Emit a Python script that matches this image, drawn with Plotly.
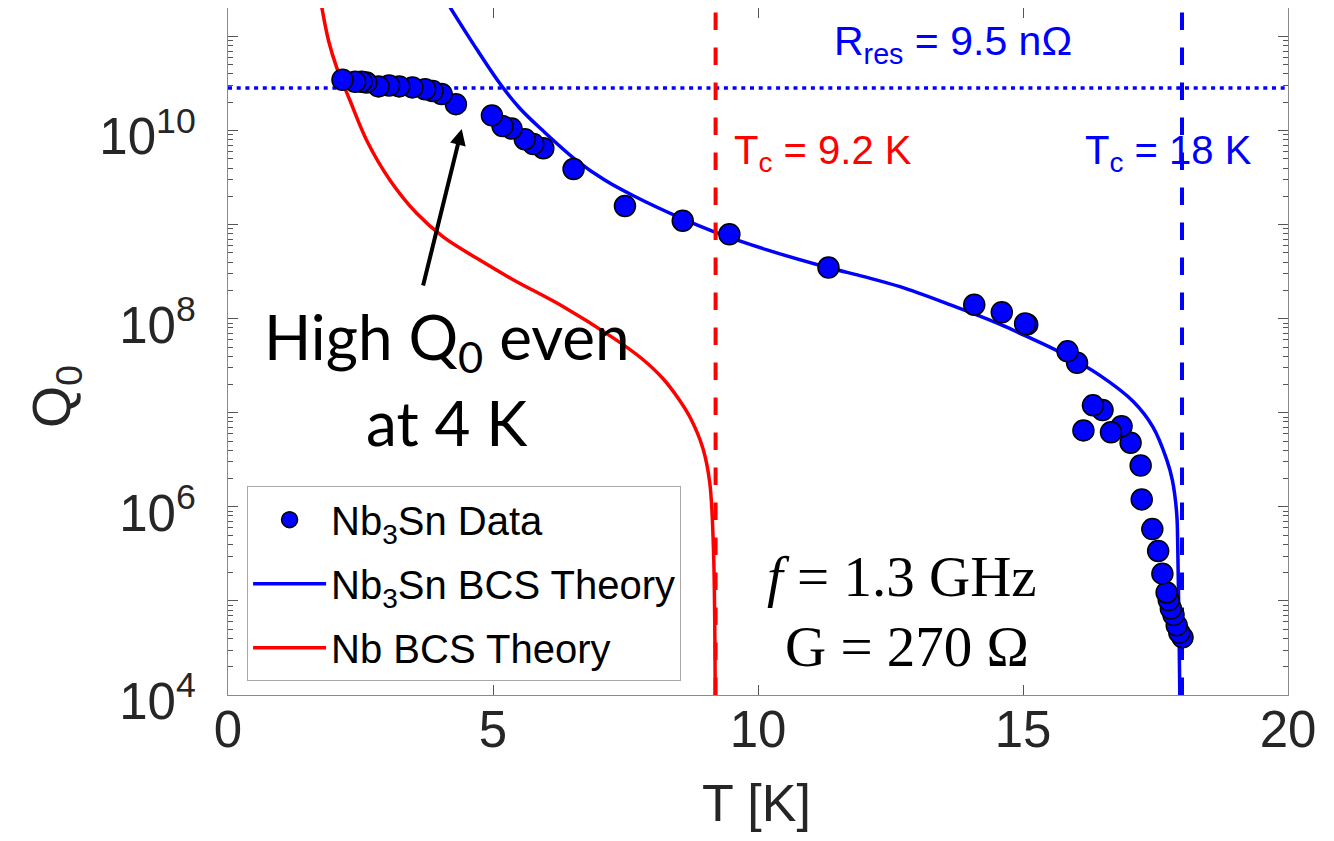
import plotly.graph_objects as go
import numpy as np

# ---------------- data ----------------
# Nb3Sn measured Q0 vs T (listed high T -> low T, as drawn)
T_data = [18.01, 17.95, 17.90, 17.84, 17.79, 17.75, 17.71, 17.63, 17.55, 17.44,
          17.24, 17.22, 17.03, 16.86, 16.66, 16.50, 16.32, 16.14, 16.02, 15.84,
          15.08, 15.04, 14.60, 14.08, 11.33, 9.46, 8.58, 7.49, 6.52, 5.95,
          5.76, 5.60, 5.35, 5.18, 4.98, 4.30, 4.03, 3.86, 3.72, 3.48,
          3.23, 3.04, 2.84, 2.61, 2.52, 2.40, 2.16]
Q_data = [4.1e4, 4.6e4, 5.5e4, 7.1e4, 8.3e4, 1.02e5, 1.23e5, 1.95e5, 3.4e5, 5.8e5,
          1.20e6, 2.75e6, 4.8e6, 7.2e6, 6.2e6, 1.07e7, 1.20e7, 6.5e6, 3.4e7, 4.5e7,
          8.7e7, 8.9e7, 1.17e8, 1.41e8, 3.5e8, 7.9e8, 1.10e9, 1.58e9, 3.9e9, 6.5e9,
          7.2e9, 8.1e9, 1.05e10, 1.12e10, 1.45e10, 1.91e10, 2.45e10, 2.63e10, 2.75e10, 2.88e10,
          2.95e10, 3.02e10, 2.95e10, 3.24e10, 3.31e10, 3.31e10, 3.47e10]

# Nb3Sn BCS theory curve
T_nb3sn_bcs = [4.19, 4.63, 5.13, 5.50, 5.94, 6.58, 7.10, 7.64, 8.58, 9.15,
               10.17, 11.32, 12.00, 12.68, 13.62, 14.57, 15.04, 15.70, 16.45, 17.08,
               17.45, 17.71, 17.82, 17.90, 17.92, 17.94, 17.96]
Q_nb3sn_bcs = [2.04e11, 8.3e10, 3.16e10, 1.74e10, 1.0e10, 4.8e9, 3.0e9, 2.04e9, 1.15e9, 8.5e8,
               5.4e8, 3.5e8, 2.8e8, 2.19e8, 1.41e8, 8.7e7, 6.6e7, 4.4e7, 2.5e7, 1.32e7,
               7.1e6, 3.2e6, 1.9e6, 8.5e5, 3.7e5, 7.4e4, 9.0e3]

# Nb BCS theory curve
T_nb_bcs = [1.77, 1.90, 2.05, 2.30, 2.62, 3.06, 3.56, 4.06, 4.75, 5.38,
            6.32, 7.26, 7.80, 8.21, 8.50, 8.72, 8.96, 9.09, 9.16, 9.19, 9.19]
Q_nb_bcs = [2.04e11, 8.9e10, 4.7e10, 2.1e10, 7.8e9, 2.95e9, 1.32e9, 7.4e8, 4.2e8, 2.6e8,
            1.35e8, 6.3e7, 3.8e7, 2.3e7, 1.41e7, 8.9e6, 4.2e6, 1.8e6, 3.5e5, 2.0e4, 9.0e3]

Tc_Nb = 9.2
Tc_Nb3Sn = 18.0
G_ohm = 270.0
R_res = 9.5e-9
Q_res = G_ohm / R_res

x_range = [0, 20]
Q_axis_min, Q_axis_max = 1e4, 2.01e11
x_ticks = [0, 5, 10, 15, 20]
y_major = [1e4, 1e5, 1e6, 1e7, 1e8, 1e9, 1e10, 1e11]
y_major_text = ['10<sup>4</sup>', '', '10<sup>6</sup>', '', '10<sup>8</sup>', '', '10<sup>10</sup>', '']
y_minor = [m * d for d in [1e4, 1e5, 1e6, 1e7, 1e8, 1e9, 1e10, 1e11] for m in range(2, 10)]

BLUE = '#0000FF'
RED = '#FF0000'
TXT = '#262626'
FONT = 'Liberation Sans, Arial, sans-serif'

fig = go.Figure()

# theory curves
fig.add_trace(go.Scatter(x=T_nb3sn_bcs, y=Q_nb3sn_bcs, mode='lines', name='Nb<sub>3</sub>Sn BCS Theory',
                         line=dict(color=BLUE, width=3.5, shape='spline', smoothing=1.0),
                         legendrank=2, legendgroup='b'))
fig.add_trace(go.Scatter(x=T_nb_bcs, y=Q_nb_bcs, mode='lines', name='Nb BCS Theory',
                         line=dict(color=RED, width=3.5, shape='spline', smoothing=1.0),
                         legendrank=3, legendgroup='c'))

# reference lines
fig.add_trace(go.Scatter(x=x_range, y=[Q_res, Q_res], mode='lines', showlegend=False,
                         line=dict(color=BLUE, width=3.5, dash='4px,4.7px')))
fig.add_trace(go.Scatter(x=[Tc_Nb, Tc_Nb], y=[Q_axis_min, Q_axis_max], mode='lines', showlegend=False,
                         line=dict(color=RED, width=4, dash='17.5px,17.5px')))
fig.add_trace(go.Scatter(x=[Tc_Nb3Sn, Tc_Nb3Sn], y=[Q_axis_min, Q_axis_max], mode='lines', showlegend=False,
                         line=dict(color=BLUE, width=4, dash='17.5px,17.5px')))

# data
fig.add_trace(go.Scatter(x=T_data, y=Q_data, mode='markers', name='Nb<sub>3</sub>Sn Data',
                         marker=dict(color=BLUE, size=21, line=dict(color='black', width=1.5)),
                         legendrank=1, legendgroup='a'))

ann = []
ann.append(dict(text='T<sub>c</sub> = 9.2 K', x=Tc_Nb, xref='x', xshift=16, xanchor='left',
                y=0.789, yref='paper', yanchor='middle', showarrow=False,
                font=dict(family=FONT, size=40, color=RED)))
ann.append(dict(text='T<sub>c</sub> = 18 K', x=Tc_Nb3Sn, xref='x', xshift=-99, xanchor='left',
                y=0.789, yref='paper', yanchor='middle', showarrow=False,
                font=dict(family=FONT, size=40, color=BLUE)))
ann.append(dict(text='R<sub>res</sub> = 9.5 nΩ', x=0.6844, xref='paper', xanchor='center',
                y=0.9476, yref='paper', yanchor='middle', showarrow=False,
                font=dict(family=FONT, size=41, color=BLUE)))
ann.append(dict(text='High Q<sub>0</sub> even', x=0.207, xref='paper', xanchor='center',
                y=0.5153, yref='paper', yanchor='middle', showarrow=False,
                font=dict(family='Lato, sans-serif', size=62, color='black')))
ann.append(dict(text='at 4 K', x=0.207, xref='paper', xanchor='center',
                y=0.397, yref='paper', yanchor='middle', showarrow=False,
                font=dict(family='Lato, sans-serif', size=62, color='black')))
ann.append(dict(text='<i>f</i> = 1.3 GHz', x=0.636, xref='paper', xanchor='center',
                y=0.173, yref='paper', yanchor='middle', showarrow=False,
                font=dict(family='Liberation Serif, Times New Roman, serif', size=57, color='black')))
ann.append(dict(text='G = 270 Ω', x=0.6406, xref='paper', xanchor='center',
                y=0.0713, yref='paper', yanchor='middle', showarrow=False,
                font=dict(family='Liberation Serif, Times New Roman, serif', size=57, color='black')))
# arrow
ann.append(dict(text='', x=4.41, xref='x', y=np.log10(1.04e10), yref='y',
                ax=-39, ay=158, axref='pixel', ayref='pixel', showarrow=True,
                arrowhead=2, arrowsize=0.8, arrowwidth=4, arrowcolor='black'))
# axis titles
ann.append(dict(text='T [K]', x=0.499, xref='paper', xanchor='center',
                y=-0.157, yref='paper', yanchor='middle', showarrow=False,
                font=dict(family=FONT, size=52, color=TXT)))
ann.append(dict(text='Q<sub>0</sub>', x=-0.163, xref='paper', xanchor='center',
                y=0.434, yref='paper', yanchor='middle', showarrow=False, textangle=-90,
                font=dict(family=FONT, size=54, color=TXT)))

fig.update_layout(
    width=1334, height=841,
    margin=dict(l=220, r=54, t=0, b=154),
    paper_bgcolor='white', plot_bgcolor='white',
    font=dict(family=FONT, color=TXT),
    annotations=ann,
    legend=dict(x=0.018, y=0.304, xanchor='left', yanchor='top',
                bgcolor='white', bordercolor='#a8a8a8', borderwidth=1,
                font=dict(family=FONT, size=40, color='black'),
                itemwidth=73, tracegroupgap=9, traceorder='grouped'),
    xaxis=dict(range=x_range, tickvals=x_ticks, ticks='inside', ticklen=10, tickwidth=1,
               tickcolor='#555555', showline=True, linecolor='#8a8a8a', linewidth=1,
               mirror='allticks', showgrid=False, zeroline=False,
               tickfont=dict(family=FONT, size=51, color=TXT), ticklabelstandoff=-10),
    yaxis=dict(type='log', range=[np.log10(Q_axis_min), np.log10(Q_axis_max)],
               tickvals=y_major, ticktext=y_major_text, ticks='inside', ticklen=10, tickwidth=1,
               tickcolor='#555555', showline=True, linecolor='#8a8a8a', linewidth=1,
               mirror='allticks', showgrid=False, zeroline=False,
               minor=dict(tickvals=y_minor, ticks='inside', ticklen=5, tickcolor='#555555', showgrid=False),
               tickfont=dict(family=FONT, size=51, color=TXT), ticklabelstandoff=21,
               ticklabelshift=6),
)

fig.write_html('out.html')
